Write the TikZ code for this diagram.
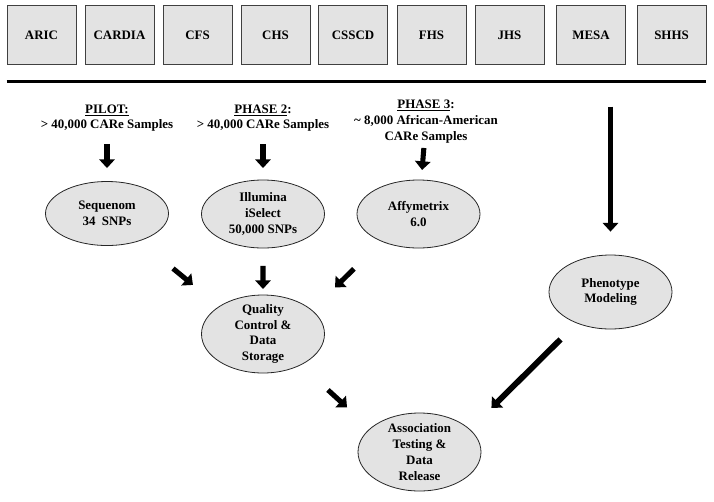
\documentclass[tikz,border=0pt]{standalone}
\usepackage{fontspec}
\setmainfont{Liberation Serif}
\usetikzlibrary{shapes,positioning,arrows.meta,calc}

\begin{document}
\begin{tikzpicture}[x=0.75pt, y=-0.75pt,
      font=\fontsize{9.7}{11.8}\selectfont\bfseries,
      cohort/.style={draw=black!75, fill=gray!22, line width=0.7pt,
        minimum width=51.75pt, minimum height=43.9pt},
      oval/.style={ellipse, draw=black!85, fill=gray!22, line width=0.6pt,
        minimum width=92.25pt, inner sep=0pt},
      fat/.style={line width=3.8pt, -{Triangle[width=11.5pt,length=6.5pt]}}]
      \useasboundingbox (0,0) rectangle (714,501);

      \foreach \n/\x in {ARIC/41.5, CARDIA/119.5, CFS/197.5, CHS/275.5,
        CSSCD/353, FHS/431.5, JHS/509.5, MESA/591, SHHS/671.5} {
        \node[cohort] (\n) at (\x,35) {\n};
      };
      \draw[line width=2.2pt] ($(ARIC.south west)+(0,17)$)
      -- ($(SHHS.south east)+(0,17)$);

      \node[align=center] (pilot) at (107,118)
      {\underline{PILOT:}\\> 40,000 CARe Samples};
      \node[align=center] (phtwo) at (263,118)
      {\underline{PHASE 2}:\\> 40,000 CARe Samples};
      \node[align=center] (phthree) at (426,121.5)
      {\underline{PHASE 3}:\\\textasciitilde{} 8,000 African-American\\CARe Samples};

      \node[oval, minimum height=48pt,
      label={[align=center]center:Sequenom\\34~~SNPs}] (seq) at (107,213.5) {};
      \node[oval, minimum height=51pt,
      label={[align=center]center:Illumina\\iSelect\\50,000 SNPs}] (illu) at (263,214) {};
      \node[oval, minimum height=51pt,
      label={[align=center]center:Affymetrix\\6.0}] (affy) at (418.5,214) {};
      \node[oval, minimum height=58.5pt,
      label={[align=center]center:Quality\\Control \&\\Data\\Storage}] (qc) at (263,334) {};
      \node[oval, minimum height=58.5pt,
      label={[align=center]center:Association\\Testing \&\\Data\\Release}] (assoc) at (419.5,452) {};
      \node[oval, minimum height=55.5pt,
      label={[align=center]center:Phenotype\\Modeling}] (pheno) at (610.5,292) {};

      \draw[fat] ($(pilot)!0.272!(seq)$) -- ($(pilot)!0.524!(seq)$);
      \draw[fat] ($(phtwo)!0.271!(illu)$) -- ($(phtwo)!0.521!(illu)$);
      \draw[fat] ($(phthree)!0.286!(affy)$) -- ($(phthree)!0.524!(affy)$);
      \draw[fat] ($(seq)!0.423!(qc)+(0,4)$) -- ($(seq)!0.551!(qc)+(0,5)$);
      \draw[fat] ($(illu)!0.433!(qc)$) -- ($(illu)!0.625!(qc)$);
      \draw[fat] ($(affy)!0.415!(qc)+(0,5)$) -- ($(affy)!0.537!(qc)+(0,9)$);
      \draw[fat] ($(qc)!0.415!(assoc)+(0,7)$) -- ($(qc)!0.537!(assoc)+(0,10)$);
      \draw[fat] ($(pheno.north)+(0,-148)$) -- ($(pheno.north)+(0,-23)$);
      \draw[fat, line width=4.4pt] ($(pheno.south)+(-50,10)$)
      -- ($(assoc.east)+(10,-44)$);
    \end{tikzpicture}
\end{document}
